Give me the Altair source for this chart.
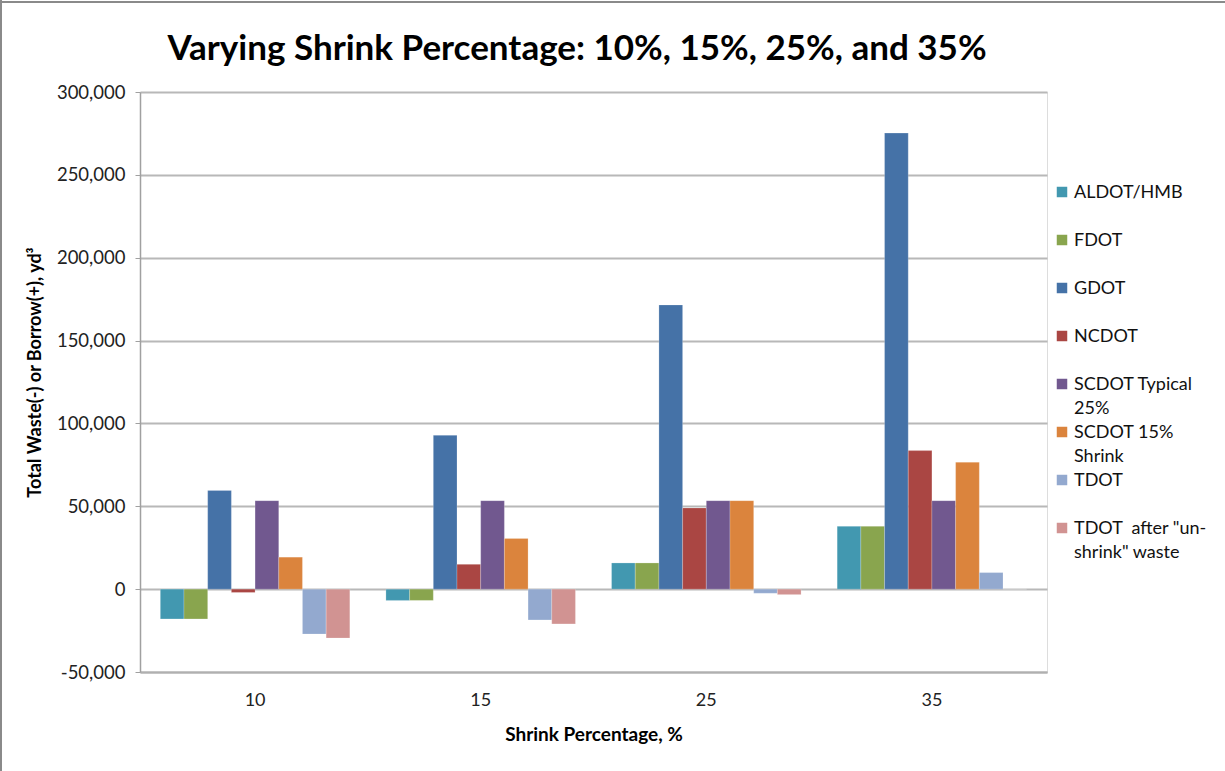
import altair as alt
import pandas as pd

categories = ["10", "15", "25", "35"]
series = [
    "ALDOT/HMB",
    "FDOT",
    "GDOT",
    "NCDOT",
    "SCDOT Typical 25%",
    "SCDOT 15% Shrink",
    "TDOT",
    'TDOT  after "un-shrink" waste',
]
legend_labels = [
    "ALDOT/HMB",
    "FDOT",
    "GDOT",
    "NCDOT",
    "SCDOT Typical\n25%",
    "SCDOT 15%\nShrink",
    "TDOT",
    'TDOT\u00a0 after "un-\nshrink" waste',
]
colors = ["#4298B0", "#89A54E", "#4572A7", "#AA4643", "#71588F", "#DB843D", "#93A9CF", "#D19392"]
title_text = ["Varying Shrink Percentage: 10%, 15%, 25%, and 35%"]

aldot = [-18000, -6800, 15800, 37900]
fdot = [-18000, -6800, 15800, 37900]
gdot = [59600, 92800, 171500, 275200]
ncdot = [-2000, 15000, 49000, 83600]
scdot_typical = [53400, 53400, 53400, 53400]
scdot_15 = [19300, 30600, 53400, 76600]
tdot = [-27100, -18600, -2500, 10000]
tdot_after = [-29500, -21000, -3300, 0]

values = [aldot, fdot, gdot, ncdot, scdot_typical, scdot_15, tdot, tdot_after]

rows = []
for s, vals in zip(series, values):
    for c, v in zip(categories, vals):
        rows.append({"Shrink": c, "Series": s, "Value": v})
df = pd.DataFrame(rows)

leg = pd.DataFrame({"Series": series, "Label": legend_labels})
ttl = pd.DataFrame({"T": title_text})

FONT = "Lato"
W, H = 907, 580

color_scale = alt.Scale(domain=series, range=colors)

bars = (
    alt.Chart(df)
    .mark_bar(stroke="#ffffff", strokeOpacity=0.35, strokeWidth=0.6)
    .encode(
        x=alt.X(
            "Shrink:N",
            sort=categories,
            scale=alt.Scale(paddingInner=0.16, paddingOuter=0.09),
            axis=alt.Axis(
                title="Shrink Percentage, %",
                labelAngle=0,
                ticks=False,
                labelPadding=19,
                labelFontSize=18,
                labelColor="#222222",
                titleFontSize=19,
                titleFontWeight="bold",
                titlePadding=16,
                titleColor="#000000",
                domainColor="#b0b0b0",
                domainWidth=2,
                labelFont=FONT,
                titleFont=FONT,
            ),
        ),
        xOffset=alt.XOffset("Series:N", sort=series, scale=alt.Scale(paddingInner=0, paddingOuter=0)),
        y=alt.Y(
            "Value:Q",
            scale=alt.Scale(domain=[-50000, 300000], nice=False, zero=False),
            axis=alt.Axis(
                title="Total Waste(-) or Borrow(+), yd³",
                values=[-50000, 0, 50000, 100000, 150000, 200000, 250000, 300000],
                labelExpr="replace(format(datum.value, ','), '\u2212', '-')",
                labelFontSize=18.5,
                labelColor="#222222",
                labelPadding=10,
                tickSize=5,
                tickColor="#a0a0a0",
                domainColor="#a0a0a0",
                domainWidth=1.5,
                grid=True,
                gridColor="#b8b8b8",
                gridWidth=2,
                titleFontSize=18,
                titleFontWeight="bold",
                titleColor="#000000",
                titleAngle=270,
                titleX=-105,
                titleY=280,
                titleAlign="center",
                titleBaseline="middle",
                labelFont=FONT,
                titleFont=FONT,
            ),
        ),
        color=alt.Color("Series:N", scale=color_scale, legend=None),
    )
)

legend_y = alt.Y(
    "Series:N",
    sort=series,
    scale=alt.Scale(type="point", range=[100, 436], padding=0),
    axis=None,
)

leg_sym = (
    alt.Chart(leg)
    .mark_square(size=110, opacity=1)
    .encode(
        x=alt.value(922),
        y=legend_y,
        color=alt.Color("Series:N", scale=color_scale, legend=None),
    )
)

leg_txt = (
    alt.Chart(leg)
    .mark_text(
        align="left",
        baseline="alphabetic",
        dy=6,
        fontSize=18,
        font=FONT,
        lineBreak="\n",
        lineHeight=24,
        color="#111111",
    )
    .encode(x=alt.value(934), y=legend_y, text="Label:N")
)

title_mark = (
    alt.Chart(ttl)
    .mark_text(
        align="center",
        baseline="alphabetic",
        fontSize=35,
        font=FONT,
        fontWeight="bold",
        color="#000000",
    )
    .encode(x=alt.value(437), y=alt.value(-32), text="T:N")
)

border_left = alt.Chart(leg).mark_rule(color="#8a8a8a", strokeWidth=2).encode(
    x=alt.value(-139), y=alt.value(-92), y2=alt.value(679)
)
border_top = alt.Chart(leg).mark_rule(color="#8a8a8a", strokeWidth=2).encode(
    x=alt.value(-140), x2=alt.value(1090), y=alt.value(-90)
)

chart = (
    alt.layer(bars, leg_sym, leg_txt, title_mark, border_left, border_top)
    .resolve_scale(y="independent", x="independent")
    .properties(
        width=W,
        height=H,
        autosize=alt.AutoSizeParams(type="none"),
        padding={"left": 140, "top": 92, "right": 178, "bottom": 99},
    )
    .configure_view(stroke=None)
    .configure(background="#ffffff")
)

chart.save("out.html", embed_options={"renderer": "svg", "actions": False})
